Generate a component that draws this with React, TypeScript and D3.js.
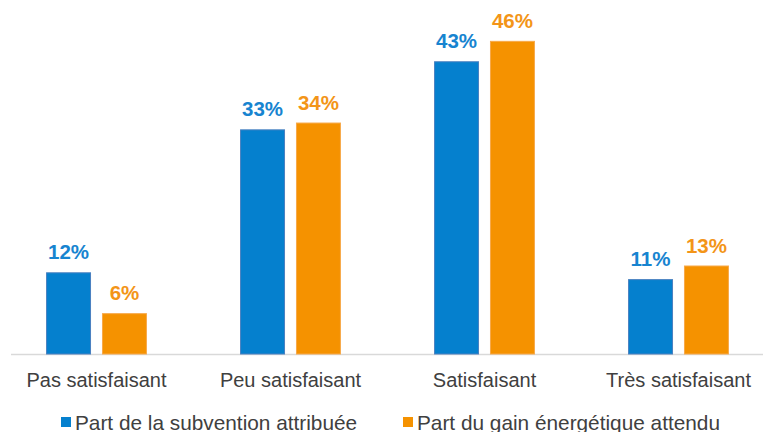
import React from "react";
import * as d3 from "d3";

const categories = ["Pas satisfaisant", "Peu satisfaisant", "Satisfaisant", "Très satisfaisant"];
const seriesNames = ["Part de la subvention attribuée", "Part du gain énergétique attendu"];
const subvention = [12, 33, 43, 11];
const gain = [6, 34, 46, 13];
const seriesValues = [subvention, gain];

const W = 763;
const H = 432;
const baseY = 354;
const fills = ["#0580CE", "#F59200"];
const strokes = ["#4A80C0", "#F7A94A"];
const labelColors = ["#1784D0", "#F39518"];
const textColor = "#404040";
const font = "'Liberation Sans', Arial, sans-serif";

export default function App() {
  const x0 = d3.scaleBand<string>().domain(categories).range([-0.5, 775.5]).paddingInner(0.48).paddingOuter(0.24);
  const x1 = d3.scaleBand<number>().domain([0, 1]).range([0, x0.bandwidth()]).paddingInner(0.196);
  const y = d3.scaleLinear().domain([0, 52]).range([baseY, 0]);

  return (
    <svg width={W} height={H} style={{ position: "absolute", left: 0, top: 0, background: "#fff" }} fontFamily={font}>
      <rect x={0} y={0} width={W} height={H} fill="#fff" />
      <line x1={11} x2={W} y1={baseY + 0.5} y2={baseY + 0.5} stroke="#D9D9D9" strokeWidth={1.5} />
      {categories.map((c, i) => (
        <g key={c} transform={`translate(${x0(c)},0)`}>
          {seriesValues.map((vals, s) => {
            const v = vals[i];
            const bx = x1(s)!;
            const bw = x1.bandwidth();
            const top = y(v);
            return (
              <g key={s}>
                <rect x={bx + 0.5} y={top + 0.5} width={bw - 1} height={baseY - top - 0.5} fill={fills[s]} stroke={strokes[s]} strokeWidth={1} />
                <text x={bx + bw / 2} y={top - 13} textAnchor="middle" fontSize={20.5} fontWeight="bold" fill={labelColors[s]}>
                  {v}%
                </text>
              </g>
            );
          })}
          <text x={x0.bandwidth() / 2} y={387} textAnchor="middle" fontSize={20} fill={textColor}>
            {c}
          </text>
        </g>
      ))}
      {seriesNames.map((n, s) => {
        const lx = s === 0 ? 61 : 403;
        return (
          <g key={n}>
            <rect x={lx} y={417} width={10} height={10} fill={fills[s]} />
            <text x={lx + 14} y={429.5} fontSize={20.8} fill={textColor}>
              {n}
            </text>
          </g>
        );
      })}
    </svg>
  );
}
